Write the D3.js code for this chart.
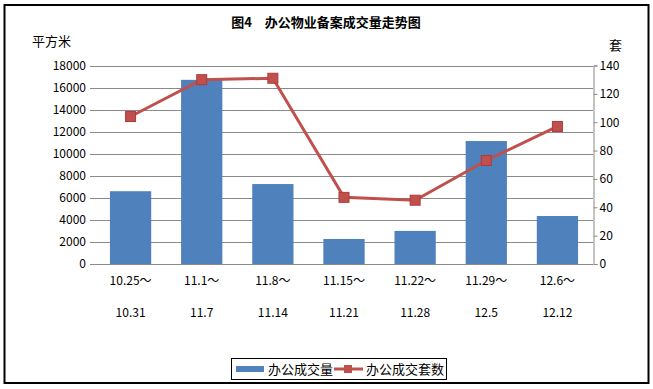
<!DOCTYPE html>
<html><head><meta charset="utf-8">
<script src="https://cdn.jsdelivr.net/npm/d3@7"></script>
<style>
body{margin:0;background:#fff;}
text{font-family:"Noto Sans CJK SC","Noto Sans",sans-serif;}
</style></head>
<body><svg id="c" width="653" height="389"></svg>
<script>
const categoriesTop = ["10.25～","11.1～","11.8～","11.15～","11.22～","11.29～","12.6～"];
const categoriesBottom = ["10.31","11.7","11.14","11.21","11.28","12.5","12.12"];
const areaValues = [6600,16700,7250,2270,3000,11150,4350];
const countValues = [104,130,131,47,45,73,97];
const leftTicks = [0,2000,4000,6000,8000,10000,12000,14000,16000,18000];
const rightTicks = [0,20,40,60,80,100,120,140];
const title = "图4　办公物业备案成交量走势图";
const seriesNames = ["办公成交量","办公成交套数"];

const svg = d3.select("#c");
const L=95, R=593, T=65.5, B=264;
const barColor="#4F81BD", lineColor="#C0504D";

svg.append("rect").attr("x",4.5).attr("y",5).attr("width",644).attr("height",378)
  .attr("fill","#fff").attr("stroke","#000").attr("stroke-width",2);

const x = d3.scaleBand().domain(d3.range(categoriesTop.length)).range([L,R]).paddingInner(0.42).paddingOuter(0.21);
const yL = d3.scaleLinear().domain([0,18000]).range([B,T]);
const yR = d3.scaleLinear().domain([0,140]).range([B,T]);

// gridlines
svg.append("g").selectAll("line").data(leftTicks).join("line")
  .attr("x1",L-5).attr("x2",R).attr("y1",d=>Math.round(yL(d))+0.5).attr("y2",d=>Math.round(yL(d))+0.5)
  .attr("stroke","#8a8a8a").attr("stroke-width",1);

// left labels
svg.append("g").selectAll("text").data(leftTicks).join("text")
  .attr("x",86).attr("y",d=>yL(d)).attr("dy","0.36em").attr("text-anchor","end")
  .attr("font-size",12).attr("fill","#000").text(d=>d);

// right axis
const ra = svg.append("g").attr("transform",`translate(${R+0.5},0)`)
  .call(d3.axisRight(yR).tickValues(rightTicks).tickSize(4).tickPadding(2).tickFormat(d=>d));
ra.select(".domain").attr("stroke","#8a8a8a");
ra.selectAll(".tick line").attr("stroke","#8a8a8a");
ra.selectAll(".tick text").attr("font-size",12).attr("fill","#000")
  .style("font-family",'"Noto Sans CJK SC","Noto Sans",sans-serif');

// bars
svg.append("g").selectAll("rect").data(areaValues).join("rect")
  .attr("x",(d,i)=>x(i)).attr("width",x.bandwidth())
  .attr("y",d=>yL(d)).attr("height",d=>B-yL(d)).attr("fill",barColor);

// line
const cx = i => x(i)+x.bandwidth()/2;
svg.append("path").datum(countValues)
  .attr("d",d3.line().x((d,i)=>cx(i)).y(d=>yR(d)))
  .attr("fill","none").attr("stroke",lineColor).attr("stroke-width",3);
svg.append("g").selectAll("rect").data(countValues).join("rect")
  .attr("x",(d,i)=>cx(i)-5).attr("y",d=>yR(d)-5).attr("width",10).attr("height",10)
  .attr("fill",lineColor).attr("stroke","#b03a37").attr("stroke-width",1);

// x labels
svg.append("g").selectAll("text").data(categoriesTop).join("text")
  .attr("x",(d,i)=>cx(i)).attr("y",285).attr("text-anchor","middle")
  .attr("font-size",12).attr("fill","#000").text(d=>d);
svg.append("g").selectAll("text").data(categoriesBottom).join("text")
  .attr("x",(d,i)=>cx(i)).attr("y",317).attr("text-anchor","middle")
  .attr("font-size",12).attr("fill","#000").text(d=>d);

// title and axis titles
svg.append("text").attr("x",326).attr("y",27).attr("text-anchor","middle")
  .attr("font-size",13).attr("font-weight","bold").attr("fill","#000").text(title);
svg.append("text").attr("x",32).attr("y",46).attr("font-size",13).attr("fill","#000").text("平方米");
svg.append("text").attr("x",609).attr("y",50).attr("font-size",13).attr("fill","#000").text("套");

// legend
const lg = svg.append("g");
lg.append("rect").attr("x",231.5).attr("y",358.5).attr("width",215).attr("height",21)
  .attr("fill","#fff").attr("stroke","#000").attr("stroke-width",1);
lg.append("rect").attr("x",236).attr("y",366).attr("width",28).attr("height",6).attr("fill",barColor);
lg.append("text").attr("x",268).attr("y",374).attr("font-size",13).attr("fill","#000").text(seriesNames[0]);
lg.append("line").attr("x1",334).attr("x2",363).attr("y1",369).attr("y2",369)
  .attr("stroke",lineColor).attr("stroke-width",3);
lg.append("rect").attr("x",344).attr("y",365).attr("width",8).attr("height",8).attr("fill",lineColor);
lg.append("text").attr("x",366).attr("y",374).attr("font-size",13).attr("fill","#000").text(seriesNames[1]);
</script></body></html>
